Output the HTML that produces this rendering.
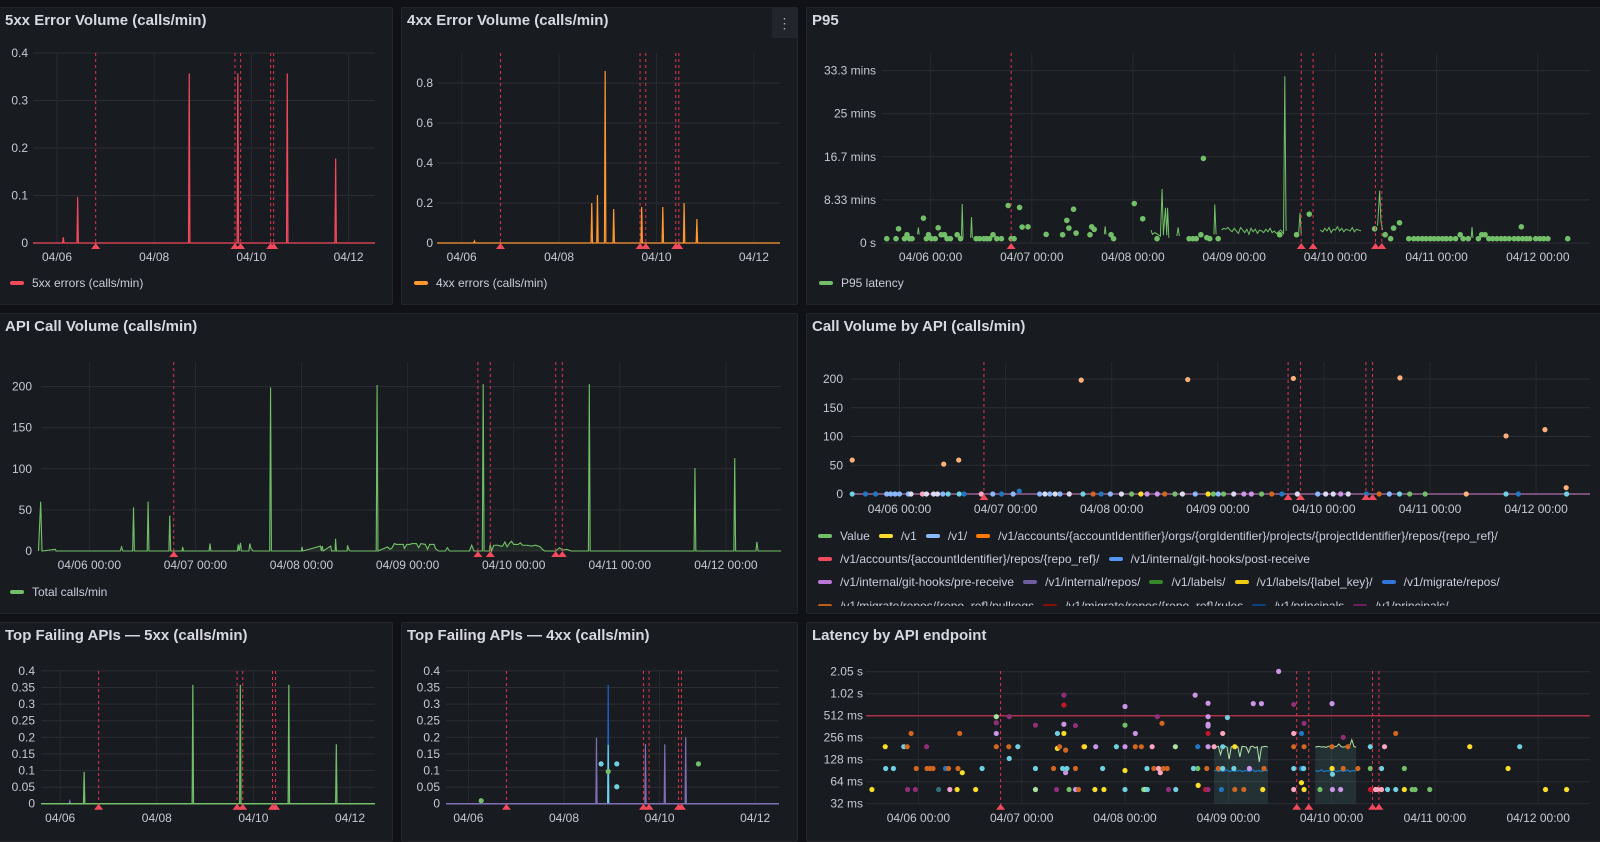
<!DOCTYPE html>
<html><head><meta charset="utf-8"><title>API Dashboard</title>
<style>
html,body{margin:0;padding:0;background:#111217;width:1600px;height:830px;overflow:hidden;font-family:"Liberation Sans",sans-serif;color:#ccccdc}
.panel{position:absolute;background:#181b1f;border:1px solid #23252b;border-radius:2px;box-sizing:border-box;overflow:hidden}
.title{position:absolute;left:5px;top:4px;font-size:15px;font-weight:bold;color:#d8d9e0;white-space:nowrap}
.legend{position:absolute;font-size:12px;color:#ccccdc;white-space:nowrap}
.li{display:inline-flex;align-items:center;margin-right:9px;height:16px}
.sw{display:inline-block;width:14px;height:4px;border-radius:2px;margin-right:8px}
.lrow{height:23.3px;display:flex;align-items:center}
#charts{position:absolute;left:0;top:0}
.menu{position:absolute;right:0;top:0;width:25px;height:30px;background:#22252b;color:#aaa;font-size:14px;text-align:center;line-height:30px}
</style></head><body>
<div class="panel" style="left:-1px;top:7px;width:394px;height:298px">
 <div class="title">5xx Error Volume (calls/min)</div>
 <div class="legend" style="left:10px;top:266px"><span class="li"><span class="sw" style="background:#f2495c"></span>5xx errors (calls/min)</span></div>
</div>
<div class="panel" style="left:401px;top:7px;width:397px;height:298px">
 <div class="title">4xx Error Volume (calls/min)</div>
 <div class="menu">⋮</div>
 <div class="legend" style="left:12px;top:266px"><span class="li"><span class="sw" style="background:#ff9830"></span>4xx errors (calls/min)</span></div>
</div>
<div class="panel" style="left:806px;top:7px;width:800px;height:298px">
 <div class="title">P95</div>
 <div class="legend" style="left:12px;top:266px"><span class="li"><span class="sw" style="background:#73bf69"></span>P95 latency</span></div>
</div>
<div class="panel" style="left:-1px;top:313px;width:799px;height:301px">
 <div class="title">API Call Volume (calls/min)</div>
 <div class="legend" style="left:10px;top:269px"><span class="li"><span class="sw" style="background:#73bf69"></span>Total calls/min</span></div>
</div>
<div class="panel" style="left:806px;top:313px;width:800px;height:301px">
 <div class="title">Call Volume by API (calls/min)</div>
 <div class="legend" style="left:11px;top:210px;height:82px;overflow:hidden;width:780px">
  <div class="lrow">
   <span class="li"><span class="sw" style="background:#73bf69"></span>Value</span>
   <span class="li"><span class="sw" style="background:#fade2a"></span>/v1</span>
   <span class="li"><span class="sw" style="background:#8ab8ff"></span>/v1/</span>
   <span class="li"><span class="sw" style="background:#ff780a"></span>/v1/accounts/{accountIdentifier}/orgs/{orgIdentifier}/projects/{projectIdentifier}/repos/{repo_ref}/</span>
  </div>
  <div class="lrow">
   <span class="li"><span class="sw" style="background:#f2495c"></span>/v1/accounts/{accountIdentifier}/repos/{repo_ref}/</span>
   <span class="li"><span class="sw" style="background:#5794f2"></span>/v1/internal/git-hooks/post-receive</span>
  </div>
  <div class="lrow">
   <span class="li"><span class="sw" style="background:#b877d9"></span>/v1/internal/git-hooks/pre-receive</span>
   <span class="li"><span class="sw" style="background:#705da0"></span>/v1/internal/repos/</span>
   <span class="li"><span class="sw" style="background:#37872d"></span>/v1/labels/</span>
   <span class="li"><span class="sw" style="background:#f2cc0c"></span>/v1/labels/{label_key}/</span>
   <span class="li"><span class="sw" style="background:#3274d9"></span>/v1/migrate/repos/</span>
  </div>
  <div class="lrow">
   <span class="li"><span class="sw" style="background:#c15c17"></span>/v1/migrate/repos/{repo_ref}/pullreqs</span>
   <span class="li"><span class="sw" style="background:#890f02"></span>/v1/migrate/repos/{repo_ref}/rules</span>
   <span class="li"><span class="sw" style="background:#0a437c"></span>/v1/principals</span>
   <span class="li"><span class="sw" style="background:#6d1f62"></span>/v1/principals/</span>
  </div>
 </div>
</div>
<div class="panel" style="left:-1px;top:622px;width:394px;height:220px">
 <div class="title">Top Failing APIs — 5xx (calls/min)</div>
</div>
<div class="panel" style="left:401px;top:622px;width:397px;height:220px">
 <div class="title">Top Failing APIs — 4xx (calls/min)</div>
</div>
<div class="panel" style="left:806px;top:622px;width:800px;height:220px">
 <div class="title">Latency by API endpoint</div>
</div>
<svg id="charts" width="1600" height="830"></svg>
<script>
// ---------- DATA ----------
const annotationHours = [43.1, 111.9, 114.7, 129.5, 131.0];
const shortDayHours = [24, 72, 120, 168];
const shortDayLabels = ["04/06", "04/08", "04/10", "04/12"];
const longDayHours = [24, 48, 72, 96, 120, 144, 168];
const longDayLabels = ["04/06 00:00", "04/07 00:00", "04/08 00:00", "04/09 00:00", "04/10 00:00", "04/11 00:00", "04/12 00:00"];

const e5Ticks = [0, 0.1, 0.2, 0.3, 0.4];
const e5TickLabels = ["0", "0.1", "0.2", "0.3", "0.4"];
const e5SpikeHours = [27.1, 34.2, 89.3, 113.3, 137.7, 161.6];
const e5SpikeValues = [0.012, 0.097, 0.357, 0.357, 0.357, 0.178];

const e4Ticks = [0, 0.2, 0.4, 0.6, 0.8];
const e4TickLabels = ["0", "0.2", "0.4", "0.6", "0.8"];
const e4SpikeHours = [30.3, 88.1, 90.9, 94.7, 98.9, 112.7, 123.1, 133.6, 139.9];
const e4SpikeValues = [0.01, 0.2, 0.24, 0.86, 0.17, 0.18, 0.18, 0.2, 0.12];

const p95Ticks = [0, 500, 1000, 1500, 2000];
const p95TickLabels = ["0 s", "8.33 mins", "16.7 mins", "25 mins", "33.3 mins"];
const p95DotHours = [13.6,15.8,16.4,17.8,18.4,19.0,19.6,22.3,23.0,23.5,24.2,25.1,25.8,26.5,27.3,27.9,28.7,30.3,31.1,34.8,35.6,36.6,37.3,38.0,38.8,39.7,40.8,42.4,43.1,43.8,45.1,45.7,47.1,51.4,55.3,56.3,56.8,57.9,58.5,61.8,62.2,62.8,66.8,67.4,72.3,74.3,77.7,85.3,86.2,87.0,88.1,88.7,89.5,90.2,92.2,106.8,110.8,113.8,129.3,131.8,133.1,133.8,135.2,137.4,138.6,139.6,140.6,141.5,142.5,143.4,144.4,145.4,146.3,147.3,148.5,149.6,150.3,151.5,153.9,154.7,155.5,156.4,157.3,158.3,159.3,160.2,161.2,162.4,163.4,164.4,164.1,165.3,166.1,167.5,168.5,169.4,170.4,175.1];
const p95DotValues = [50,50,165,50,96,50,50,288,50,96,50,50,177,96,96,50,50,96,50,50,50,50,50,50,96,50,50,435,50,50,412,185,188,100,96,262,173,392,115,96,188,158,96,50,458,281,50,50,50,50,96,981,62,50,50,96,96,335,165,96,50,173,235,50,50,50,50,50,50,50,50,50,50,50,50,96,50,50,50,96,96,50,50,50,50,50,50,50,50,50,188,50,50,50,50,50,50,50];
const p95LineHours = [20.9,21.1,21.3,null,31.3,31.5,31.7,null,33.5,33.7,33.9,null,65.2,65.4,65.6,null,76.3,76.6,77.2,78.5,78.9,79.2,79.7,80.0,80.2,80.5,null,82.4,82.7,83.0,null,91.2,91.4,91.7,null,93,93.5,94,94.5,95,95.5,96,96.5,97,97.5,98,98.5,99,99.5,100,100.5,101,101.5,102,102.5,103,103.5,104,104.5,105,105.5,106,106.5,107,107.7,108,108.3,null,111.3,111.6,111.9,null,116.4,117,117.5,118,118.5,119,119.5,120,120.5,121,121.5,122,122.5,123,123.5,124,124.5,125,125.5,126.1,null,130,130.5,130.8,131.2,null,152.2,152.4,152.6];
const p95LineValues = [100,180,100,null,60,454,60,null,60,300,60,null,100,192,100,null,150,100,120,80,627,90,408,90,408,60,null,80,180,80,null,100,446,100,null,150,170,160,180,150,130,170,140,110,180,150,120,160,100,170,130,160,110,150,140,120,160,130,170,120,140,110,130,150,110,1934,140,null,120,350,100,null,150,130,170,140,180,120,160,150,190,140,170,130,160,150,140,180,130,160,150,140,null,200,608,250,150,null,60,185,60];

const apiTicks = [0, 50, 100, 150, 200];
const apiTickLabels = ["0", "50", "100", "150", "200"];
const apiHours = [12.5,13,13.3,16.3,16.5,31,31.3,31.6,33.8,34,34.2,37.1,37.3,37.5,42,42.2,42.4,45,45.1,45.3,51.1,51.3,51.5,57.5,57.7,57.9,58.2,58.4,60.1,60.3,60.6,61,64.8,65,65.2,72,72.1,72.3,76.3,76.5,76.7,76.9,78.6,78.8,79.6,79.7,79.9,82.3,82.4,82.7,83,88.9,89.1,89.3,91.5,92,92.5,93,93.5,94,95,95.3,95.8,96.5,97,98,98.5,99,100,100.5,101,102,102.3,103,104.5,105,105.5,110,110.5,111,112.9,113.1,113.3,114.5,114.7,115,115.5,116.5,117,117.5,118,118.5,119,119.5,120,121,121.5,122,123,124,125,126,126.5,127,129.5,130.4,131,132,133,136.9,137.1,137.3,160.8,161,161.2,169.8,170,170.2,174.8,175,175.3,180.5];
const apiValues = [0,60,0,2,0,0,5,0,0,53,0,0,60,0,0,43,0,0,5,0,0,9,0,0,8,0,10,0,0,9,3,0,0,199,0,0,5,0,6,0,6,0,6,0,0,15,0,0,7,2,0,0,202,0,5,2,4,9,8,8,8,3,8,8,9,9,4,9,8,2,8,8,3,0,0,4,0,0,7,0,0,203,0,0,8,0,7,7,6,6,11,5,9,12,8,8,10,7,7,6,7,5,2,0,0,4,1,2,0,0,203,0,0,101,0,0,113,0,0,11,0,0];

const cvaTicks = [0, 50, 100, 150, 200];
const cvaTickLabels = ["0", "50", "100", "150", "200"];
const cvaPeachHours = [13.3, 34.0, 37.4, 65.1, 89.2, 113.1, 137.2, 161.2, 170.0, 174.8, 152.2];
const cvaPeachValues = [59, 52, 59, 198, 199, 201, 202, 101, 112, 11, 0];
const cvaZeroHours = [13.3,16.3,18.6,21.1,22.0,23.0,24.0,26.0,26.6,29.2,30.1,31.7,32.6,33.8,35.0,37.5,38.6,42.5,45.1,47.1,49.7,51.1,55.7,56.9,58.0,59.2,60.3,62.4,65.5,67.8,69.6,71.7,74.2,76.5,78.6,80.0,82.3,84.0,86.3,88.0,90.9,93.8,95.0,96.1,97.3,99.6,101.9,103.6,105.9,108.2,110.5,114.0,118.6,120.4,122.1,123.8,125.5,129.6,132.5,134.8,137.1,139.4,142.9,161.2,164.0,174.9];
const cvaZeroValues = [0,0,0,0,0,0,0,0,0,0,0,0,0,0,0,0,0,0,0,0,0,5,0,0,0,0,0,0,0,0,0,0,0,0,0,0,0,0,0,0,0,0,0,0,0,0,0,0,0,0,0,0,0,0,0,0,0,0,0,0,0,0,0,0,0,0];
const cvaZeroSeries = ["C","B","B","Lb","Lb","Lb","Lb","Lb","W","Pk","W","W","W","Lb","C","C","B","Pk","Lb","B","Lb","B","Lb","W","Lb","W","Lb","W","C","O","B","Lb","W","Gr","Y","Lv","Lv","O","Gr","W","Lb","Y","Gr","Lb","Gr","W","Lv","Lv","Gr","O","B","W","Lb","W","W","Lv","W","B","O","Lb","C","Gr","Gr","C","B","C"];

const tfTicks = [0, 0.05, 0.1, 0.15, 0.2, 0.25, 0.3, 0.35, 0.4];
const tfTickLabels = ["0", "0.05", "0.1", "0.15", "0.2", "0.25", "0.3", "0.35", "0.4"];
const tf5SpikeHours = [28.8, 35.9, 89.9, 113.5, 137.6, 161.2];
const tf5SpikeValues = [0.008, 0.096, 0.358, 0.358, 0.358, 0.179];
const tf5SpikeSeries = ["Pu", "G", "G", "G", "G", "G"];
const tf4SpikeHours = [88.3, 94.2, 94.2, 112.9, 122.6, 133.1];
const tf4SpikeValues = [0.199, 0.358, 0.177, 0.18, 0.179, 0.2];
const tf4SpikeSeries = ["Pu", "DB", "C", "Pu", "Pu", "Pu"];
const tf4DotHours = [30.4, 90.6, 94.2, 98.5, 98.5, 139.5];
const tf4DotValues = [0.009, 0.12, 0.097, 0.12, 0.051, 0.12];
const tf4DotSeries = ["G", "C", "G", "C", "C", "G"];

const latTicks = [32, 64, 128, 256, 512, 1024, 2048];
const latTickLabels = ["32 ms", "64 ms", "128 ms", "256 ms", "512 ms", "1.02 s", "2.05 s"];
const latThreshold = 512;
const latDotHours = [13.2,16.3,16.4,18.2,20.6,21.4,21.5,22.3,23.3,23.5,25.9,26.0,26.7,27.4,28.7,30.3,31.0,31.3,33.0,33.2,33.6,34.2,37.3,38.8,42.1,42.1,42.1,42.1,45.0,45.1,45.1,47.1,51.2,51.2,51.2,55.4,56.1,56.3,56.3,56.8,57.5,57.8,57.8,57.8,57.8,58.2,58.2,58.5,59.0,60.5,60.5,60.5,61.2,62.4,62.6,65.0,65.2,66.8,67.1,70.0,72.0,72.0,72.0,72.0,72.0,74.4,74.4,75.8,76.3,76.7,77.1,77.2,78.3,78.7,79.5,79.8,80.2,80.6,80.9,81.8,82.1,83.7,83.8,87.9,88.3,88.9,88.9,89.0,90.7,91.0,91.3,91.3,91.3,91.3,91.3,91.3,91.3,92.7,93.7,94.4,94.7,94.7,94.7,95.8,97.3,97.5,97.5,99.6,100.9,101.8,103.7,104.0,104.3,107.7,111.2,111.2,111.2,111.2,111.2,113.0,113.0,113.0,113.5,113.6,113.6,113.6,117.3,120.1,120.1,120.1,120.2,120.2,122.1,122.7,122.7,123.8,126.1,129.0,129.0,129.0,130.2,130.8,131.6,131.6,132.3,133.0,134.9,134.9,136.9,136.9,138.7,139.4,142.8,152.1,161.0,163.7,169.7,174.6];
const latDotValues = [50,193,97,97,193,193,50,293,50,97,193,97,97,97,50,97,97,50,50,97,293,85,50,97,496,410,293,193,193,496,133,193,380,97,50,97,50,293,183,193,97,979,717,391,293,173,85,97,50,375,97,50,50,193,193,50,193,97,50,193,684,380,193,91,50,293,193,193,50,50,97,50,193,97,496,97,85,403,97,97,50,193,50,97,979,193,97,57,50,97,758,496,391,370,293,193,50,193,97,50,293,193,97,483,97,193,50,50,97,749,749,50,97,2070,730,293,193,97,50,293,97,62,97,193,50,403,50,749,193,97,81,50,50,259,97,193,97,97,50,193,50,50,97,50,193,50,293,50,97,50,50,50,50,193,97,193,50,50];
const latDotSeries = ["Y","Y","C","C","C","O","M","O","M","O","M","O","O","O","T","B","O","P","Y","O","O","Y","Y","C","Gl","M","Lv","O","O","M","C","C","M","C","Gl","O","M","C","Y","O","C","M","R","Lv","Y","O","Lv","C","G","M","O","Lv","O","O","Y","Y","Lv","C","Y","C","Lv","G","Lv","Y","C","Lv","O","O","G","Gl","C","C","Pk","O","M","Pk","Pk","O","O","O","M","Gl","C","C","Lv","B","G","Y","R","O","Lv","Lv","Lv","Lv","R","Lv","M","Pk","O","B","Pk","C","C","C","C","Y","O","O","Lv","Lv","Lv","Y","O","Lv","M","Pk","O","C","Pk","B","B","Y","C","O","Y","M","G","Lv","O","Y","C","Lv","Lv","M","O","O","O","G","R","C","Pk","Pk","C","Pk","Pk","C","O","C","G","Y","G","G","G","Y","Y","C","Y","Y"];
const latGreenHours = [92.7,93.2,93.7,94.2,94.7,95.2,95.7,96.2,96.7,97.2,97.7,98.2,98.7,99.2,99.7,100.2,100.7,101.2,101.7,102.2,102.7,103.2,103.7,104.2,104.7,105.2,null,116.2,116.7,117.2,117.7,118.2,118.7,119.2,119.7,120.2,120.7,121.2,121.7,122.2,122.7,123.2,123.7,124.2,124.7,125.2,125.7];
const latGreenValues = [193,190,195,150,193,196,190,130,193,195,188,193,140,195,193,190,160,193,196,185,193,120,190,193,195,190,null,190,193,195,190,193,188,196,193,190,193,195,210,193,190,193,188,195,240,193,190];
const latBlueValues = [90,92,88,91,89,90,93,88,90,91,89,90,92,88,90,91,89,90,93,88,90,91,89,90,92,90,null,91,89,90,93,88,90,91,89,90,92,88,90,91,89,90,93,88,90,91,89];

// ---------- RENDER ----------
const NS = 'http://www.w3.org/2000/svg';
const svg = document.getElementById('charts');
const COLORS = {Y:'#fade2a',C:'#6ed0e0',O:'#d0661f',M:'#8e2f78',P:'#f5a3d0',Lv:'#ca95e5',G:'#73bf69',Gl:'#a9e2a0',R:'#c4162a',B:'#1f78c1',T:'#2f6f77',Pk:'#ffa6c0',Lb:'#8ab8ff',W:'#dcdcf0',Gr:'#73bf69',Pu:'#806eb7',DB:'#1f60c4'};
function mk(tag, attrs, parent) { const e = document.createElementNS(NS, tag); for (const k in attrs) e.setAttribute(k, attrs[k]); (parent || svg).appendChild(e); return e; }

function makeAxes(c) {
  c.x = h => c.x06 + (h - 24) / 24 * c.dayW;
  if (c.log) c.y = v => c.y0 - Math.log2(v / c.base) * c.ppd;
  else c.y = v => c.y0 - v * c.ppu;
  return c;
}
function drawFrame(c, ticks, labels, dayHours, dayLabels, name) {
  const g = mk('g', {});
  
  
  ticks.forEach((t, i) => {
    const y = c.y(t);
    const ln = mk('line', {x1: c.left, x2: c.right, y1: y, y2: y, stroke: '#2b2d33', 'stroke-width': 1}, g);
    
    
    const tx = mk('text', {x: c.labelR, y: y + 4, 'text-anchor': 'end', 'font-size': 12, fill: '#c7c9d4'}, g);
    tx.textContent = labels[i];
    
    
  });
  dayHours.forEach((h, i) => {
    const x = c.x(h);
    const ln = mk('line', {x1: x, x2: x, y1: c.top, y2: c.y0, stroke: '#26282d', 'stroke-width': 1}, g);
    
    
    const tx = mk('text', {x: x, y: c.xLabelY + 4, 'text-anchor': 'middle', 'font-size': 12, fill: '#c7c9d4'}, g);
    tx.textContent = dayLabels[i];
    
    
  });
}
function drawAnnotations(c, name) {
  annotationHours.forEach(h => {
    const x = c.x(h);
    const ln = mk('line', {x1: x, x2: x, y1: c.top, y2: c.y0, stroke: '#e0344f', 'stroke-width': 1, 'stroke-dasharray': '3,3'});
    
    
    const tri = mk('path', {d: `M${x-4.5},${c.y0+6} L${x},${c.y0} L${x+4.5},${c.y0+6} Z`, fill: '#f2495c'});
    
    
  });
}
function spikePath(c, hours, values, w) {
  const base = c.y(0);
  let d = `M${c.left},${base}`;
  hours.forEach((h, i) => {
    d += ` L${c.x(h - w)},${base} L${c.x(h)},${c.y(values[i])} L${c.x(h + w)},${base}`;
  });
  d += ` L${c.right},${base}`;
  return d;
}
function drawSpikes(c, hours, values, color, name, w) {
  const d = spikePath(c, hours, values, w);
  const area = mk('path', {d: d + ' Z', fill: color, 'fill-opacity': 0.18, stroke: 'none'});
  
  
  const ln = mk('path', {d: d, fill: 'none', stroke: color, 'stroke-width': 1.2});
  
  
}
function runsPath(c, hours, values) {
  let d = '', start = true;
  hours.forEach((h, i) => {
    if (h === null || values[i] === null) { start = true; return; }
    d += (start ? ' M' : ' L') + c.x(h) + ',' + c.y(values[i]);
    start = false;
  });
  return d;
}
function drawDots(c, hours, values, colorFn, r, name) {
  hours.forEach((h, i) => {
    const dot = mk('circle', {cx: c.x(h), cy: c.y(values[i]), r: r, fill: colorFn(i)});
    
    
  });
}

// 5xx
const cE5 = makeAxes({x06: 57, dayW: 48.6, y0: 243, ppu: 475, top: 53, left: 33, right: 375, labelR: 28, xLabelY: 257});
drawFrame(cE5, e5Ticks, e5TickLabels, shortDayHours, shortDayLabels, 'chart-5xx');
drawSpikes(cE5, e5SpikeHours, e5SpikeValues, '#f2495c', 'series-5xx', 0.35);
drawAnnotations(cE5, 'chart-5xx');

// 4xx
const cE4 = makeAxes({x06: 461.7, dayW: 48.7, y0: 243, ppu: 200, top: 53, left: 437, right: 780, labelR: 433, xLabelY: 257});
drawFrame(cE4, e4Ticks, e4TickLabels, shortDayHours, shortDayLabels, 'chart-4xx');
drawSpikes(cE4, e4SpikeHours, e4SpikeValues, '#ff9830', 'series-4xx', 0.35);
drawAnnotations(cE4, 'chart-4xx');

// P95
const cP = makeAxes({x06: 930.6, dayW: 101.2, y0: 243, ppu: 43.1 / 500, top: 53, left: 882, right: 1590, labelR: 876, xLabelY: 257});
drawFrame(cP, p95Ticks, p95TickLabels, longDayHours, longDayLabels, 'chart-p95');
{
  const ln = mk('path', {d: runsPath(cP, p95LineHours, p95LineValues), fill: 'none', stroke: '#73bf69', 'stroke-width': 1});
  
  
}
drawDots(cP, p95DotHours, p95DotValues, () => '#73bf69', 2.8, 'series-p95');
drawAnnotations(cP, 'chart-p95');

// API call volume
const cA = makeAxes({x06: 89.3, dayW: 106.1, y0: 551, ppu: 0.822, top: 362, left: 41, right: 781, labelR: 32, xLabelY: 565});
drawFrame(cA, apiTicks, apiTickLabels, longDayHours, longDayLabels, 'chart-api-volume');
{
  const d = runsPath(cA, apiHours, apiValues);
  const area = mk('path', {d: d + ` L${cA.x(apiHours[apiHours.length-1])},${cA.y0} L${cA.x(apiHours[0])},${cA.y0} Z`, fill: '#73bf69', 'fill-opacity': 0.1});
  
  
  const ln = mk('path', {d: d, fill: 'none', stroke: '#73bf69', 'stroke-width': 1.1});
  
  
}
drawAnnotations(cA, 'chart-api-volume');

// Call volume by API
const cV = makeAxes({x06: 899.5, dayW: 106.1, y0: 494, ppu: 0.575, top: 362, left: 851, right: 1590, labelR: 843, xLabelY: 509});
drawFrame(cV, cvaTicks, cvaTickLabels, longDayHours, longDayLabels, 'chart-call-volume-by-api');
{
  const b1 = mk('line', {x1: cV.left, x2: cV.right, y1: cV.y0, y2: cV.y0, stroke: '#8e5a8a', 'stroke-width': 2, 'stroke-opacity': 0.8});
  
  
}
drawDots(cV, cvaZeroHours, cvaZeroValues, i => COLORS[cvaZeroSeries[i]], 2.6, 'series-by-api');
drawDots(cV, cvaPeachHours, cvaPeachValues, () => '#ffb07a', 2.6, 'series-value');
drawAnnotations(cV, 'chart-call-volume-by-api');

// Top failing 5xx
const cT5 = makeAxes({x06: 60.2, dayW: 48.3, y0: 803.7, ppu: 332, top: 671, left: 41, right: 375, labelR: 35, xLabelY: 818});
drawFrame(cT5, tfTicks, tfTickLabels, shortDayHours, shortDayLabels, 'chart-top-failing-5xx');
{
  const b = mk('line', {x1: cT5.left, x2: cT5.right, y1: cT5.y0, y2: cT5.y0, stroke: '#806eb7', 'stroke-width': 1.5});
  
  
}
tf5SpikeHours.forEach((h, i) => {
  drawSpikes(cT5, [h], [tf5SpikeValues[i]], COLORS[tf5SpikeSeries[i]], 'series-top-5xx', 0.35);
});
drawAnnotations(cT5, 'chart-top-failing-5xx');

// Top failing 4xx
const cT4 = makeAxes({x06: 468.4, dayW: 47.8, y0: 803.7, ppu: 332, top: 671, left: 446, right: 779, labelR: 440, xLabelY: 818});
drawFrame(cT4, tfTicks, tfTickLabels, shortDayHours, shortDayLabels, 'chart-top-failing-4xx');
{
  const b = mk('line', {x1: cT4.left, x2: cT4.right, y1: cT4.y0, y2: cT4.y0, stroke: '#5b8fa8', 'stroke-width': 1.5});
  
  
  const b2 = mk('line', {x1: cT4.left, x2: cT4.x(48), y1: cT4.y0, y2: cT4.y0, stroke: '#c15c17', 'stroke-width': 1.5});
  
  
}
tf4SpikeHours.forEach((h, i) => {
  drawSpikes(cT4, [h], [tf4SpikeValues[i]], COLORS[tf4SpikeSeries[i]], 'series-top-4xx', 0.3);
});
drawDots(cT4, tf4DotHours, tf4DotValues, i => COLORS[tf4DotSeries[i]], 2.6, 'series-top-4xx');
drawAnnotations(cT4, 'chart-top-failing-4xx');

// Latency by endpoint
const cL = makeAxes({x06: 918.4, dayW: 103.3, y0: 803.7, log: true, base: 32, ppd: 22, top: 671, left: 866, right: 1590, labelR: 863, xLabelY: 818});
drawFrame(cL, latTicks, latTickLabels, longDayHours, longDayLabels, 'chart-latency');
{
  const dG = runsPath(cL, latGreenHours, latGreenValues);
  const dB = runsPath(cL, latGreenHours, latBlueValues);
  let runs = [], cur = [];
  latGreenHours.forEach(h => { if (h === null) { runs.push(cur); cur = []; } else cur.push(h); });
  runs.push(cur);
  runs.forEach(r => {
    const x1 = cL.x(r[0]), x2 = cL.x(r[r.length - 1]);
    const a = mk('rect', {x: x1, y: cL.y(193), width: x2 - x1, height: cL.y0 - cL.y(193), fill: '#5fa8a8', 'fill-opacity': 0.16});
    
    
  });
  const g1 = mk('path', {d: dG, fill: 'none', stroke: '#b5e0a8', 'stroke-width': 1});
  
  
  const b1 = mk('path', {d: dB, fill: 'none', stroke: '#1f78c1', 'stroke-width': 1.2});
  
  
  const th = mk('line', {x1: cL.left, x2: cL.right, y1: cL.y(latThreshold), y2: cL.y(latThreshold), stroke: '#c4314b', 'stroke-width': 1.5, 'stroke-opacity': 0.85});
  
  
}
drawDots(cL, latDotHours, latDotValues, i => COLORS[latDotSeries[i]], 2.6, 'series-latency');
drawAnnotations(cL, 'chart-latency');
</script>
</body></html>
